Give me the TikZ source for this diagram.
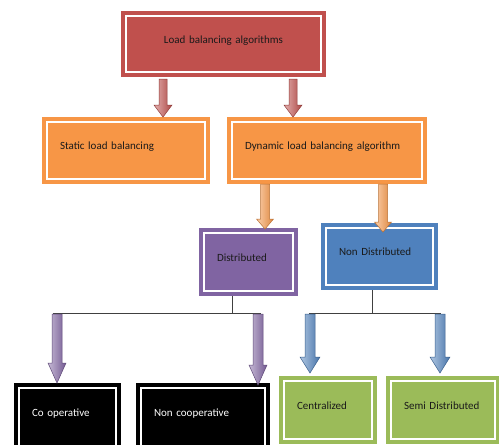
\documentclass[tikz,border=0pt]{standalone}
\usepackage{fontspec}
\setmainfont{Carlito}
\usetikzlibrary{calc}
\definecolor{redc}{HTML}{C0504D}
\definecolor{orac}{HTML}{F79646}
\definecolor{purc}{HTML}{8064A2}
\definecolor{bluc}{HTML}{4F81BD}
\definecolor{grnc}{HTML}{9BBB59}
\definecolor{txtc}{HTML}{1A1A1A}
\definecolor{linec}{HTML}{404040}
\newcommand\boxfont{\fontsize{11}{13}\selectfont\spaceskip=1.9pt plus 1pt\relax}
\newcommand\blockarr[6]{%
  \path[left color=#3!45!white, right color=#3!90!black, draw=#3!75!black, line width=0.5pt]
    ($(#1)+(-#4/2,0)$) -- ($(#2)+(-#4/2,-#6)$) -- ($(#2)+(-#5/2,-#6)$) -- (#2)
    -- ($(#2)+(#5/2,-#6)$) -- ($(#2)+(#4/2,-#6)$) -- ($(#1)+(#4/2,0)$) -- cycle;}
\tikzset{
  box/.style n args={4}{fill=#1, minimum width=#2pt, minimum height=#3pt,
    text width=#4pt, inner xsep=18pt, inner ysep=0pt, align=left,
    text height=6pt, text depth=8pt,
    font=\boxfont, text=txtc,
    path picture={\draw[white,line width=1.5pt]
      ([shift={(5pt,-5pt)}]path picture bounding box.north west) rectangle
      ([shift={(-5pt,5pt)}]path picture bounding box.south east);}},
  conn/.style={draw=linec, line width=1pt}
}
\begin{document}
\begin{tikzpicture}[x=1pt,y=-1pt]
\useasboundingbox (0,0) rectangle (499,445);
\clip (0,0) rectangle (499,445);
% boxes
\node[box={redc}{205}{66}{169}, align=center] (top) at (223.5,44) {Load balancing algorithms};
\node[box={orac}{168}{67}{132}] (static) at (126,150.5) {Static load balancing};
\node[box={orac}{200}{67}{164}] (dyn) at (327,150.5) {Dynamic load balancing algorithm};
\node[box={purc}{99}{68}{63}] (dist) at (248.5,262) {Distributed};
\node[box={bluc}{117}{67}{81}] (nondist) at (379.5,256.5) {Non Distributed};
\node[box={black}{107}{68}{71}, text=white] (coop) at (67.5,417) {Co operative};
\node[box={black}{134}{68}{98}, text=white] (noncoop) at (203,417) {Non cooperative};
\node[box={grnc}{98}{68}{62}] (central) at (328,410) {Centralized};
\node[box={grnc}{114}{68}{78}] (semi) at (443,410) {Semi Distributed};
% coordinates
\coordinate (r1s) at (163,79);  \coordinate (r1e) at (163,117);
\coordinate (r2s) at (293,79);  \coordinate (r2e) at (293,117);
\coordinate (o1s) at (265,184); \coordinate (o1e) at (265,229);
\coordinate (o2s) at (383,184); \coordinate (o2e) at (383,232);
\coordinate (dj) at (232,313);
\coordinate (dl) at (53,313); \coordinate (dr) at (261,313);
\coordinate (nj) at (372,313);
\coordinate (nl) at (309,313); \coordinate (nr) at (441,313);
\coordinate (p1s) at (57,314);  \coordinate (p1e) at (57,383);
\coordinate (p2s) at (258,314); \coordinate (p2e) at (258,385);
\coordinate (b1s) at (310,314); \coordinate (b1e) at (310,373);
\coordinate (b2s) at (440,314); \coordinate (b2e) at (440,373);
% connectors
\draw[conn] (dj |- dist.south) -- (dj);
\draw[conn] (dl) -- (dr);
\draw[conn] (nj |- nondist.south) -- (nj);
\draw[conn] (nl) -- (nr);
% block arrows
\blockarr{r1s}{r1e}{redc}{8}{18}{12}
\blockarr{r2s}{r2e}{redc}{8}{18}{12}
\blockarr{o1s}{o1e}{orac}{9}{17}{10}
\blockarr{o2s}{o2e}{orac}{9}{17}{10}
\blockarr{p1s}{p1e}{purc}{10}{18}{20}
\blockarr{p2s}{p2e}{purc}{10}{18}{20}
\blockarr{b1s}{b1e}{bluc}{10}{20}{16}
\blockarr{b2s}{b2e}{bluc}{10}{20}{16}
\end{tikzpicture}
\end{document}
